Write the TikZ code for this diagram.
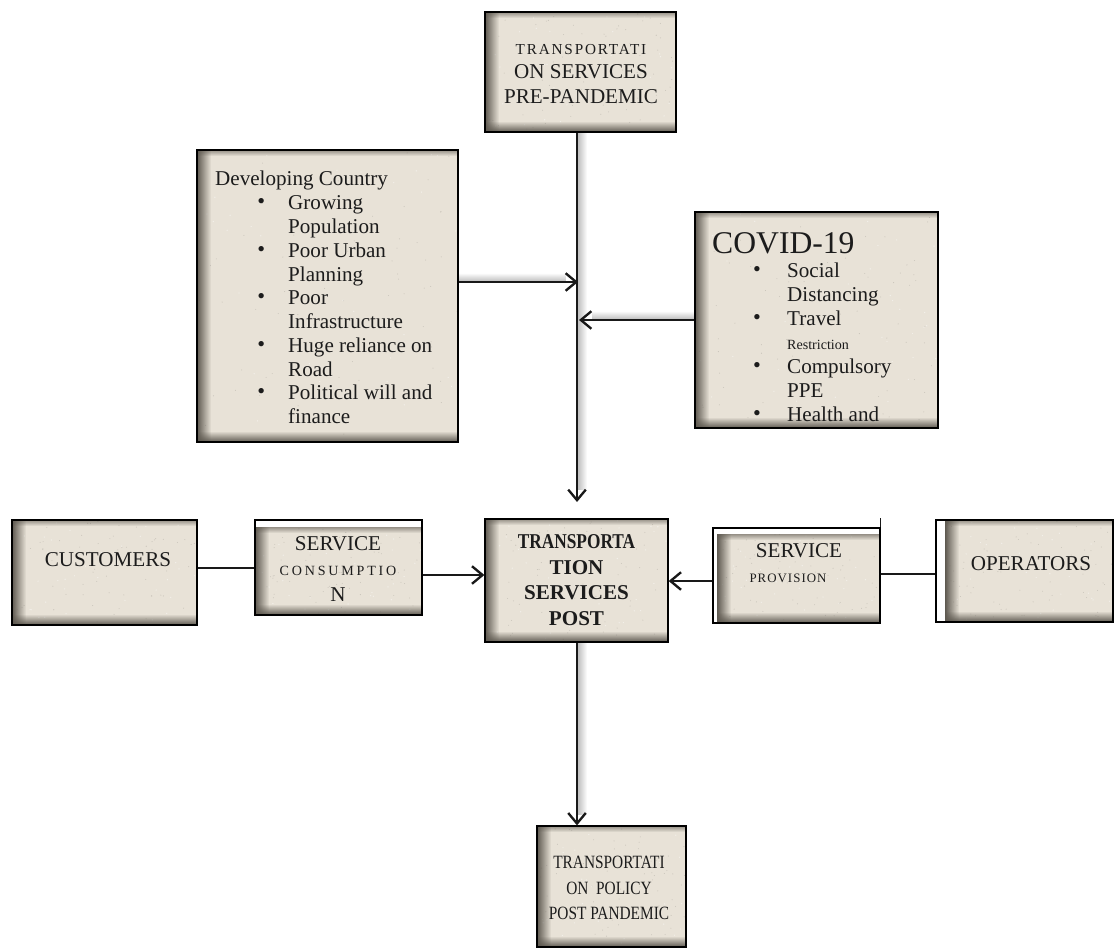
\documentclass[tikz,border=0pt]{standalone}
\usepackage{fontspec}
\setmainfont{Liberation Serif}
\newfontfamily\narrowserif{Liberation Serif}[FakeStretch=0.82]
\usetikzlibrary{fit,arrows.meta,fadings,calc}

\definecolor{stone}{HTML}{E8E2D7}
\definecolor{stoneshade}{HTML}{5E5950}
\definecolor{ink}{HTML}{1C1C1C}

\newcommand\pxu{0.03cm}
\newcommand\fs[2]{\fontsize{#1}{#2}\selectfont}
\newcommand\bul{\raisebox{0.1ex}{\fs{19}{19}\textbullet}}

% stone-textured fill with inner shading, drawn inside each box
\newcommand\stonefill{%
  \coordinate (SWc) at (path picture bounding box.south west);
  \coordinate (NEc) at (path picture bounding box.north east);
  \coordinate (sw) at ([xshift=\insetL*\pxu]SWc);
  \coordinate (ne) at ([yshift=-\insetT*\pxu]NEc);
  \fill[stone] (sw) rectangle (ne);
  \foreach \k in {1,...,70}{%
    \pgfmathsetmacro\ra{rnd}\pgfmathsetmacro\rb{rnd}%
    \fill[black,opacity=0.13] let \p1=(sw), \p2=(ne) in
      ({\x1+\ra*(\x2-\x1)},{\y1+\rb*(\y2-\y1)}) circle (0.45pt);
  }
  \foreach \k in {1,...,40}{%
    \pgfmathsetmacro\ra{rnd}\pgfmathsetmacro\rb{rnd}%
    \fill[white,opacity=0.45] let \p1=(sw), \p2=(ne) in
      ({\x1+\ra*(\x2-\x1)},{\y1+\rb*(\y2-\y1)}) circle (0.6pt);
  }
  \fill[stoneshade,path fading=east] (sw) rectangle ([xshift=14*\pxu]sw |- ne);
  \fill[stoneshade,path fading=north] (sw) rectangle ([yshift=11*\pxu]sw -| ne);
  \fill[stoneshade,opacity=0.6,path fading=south] ([yshift=-6*\pxu]ne -| sw) rectangle (ne);
}

\tikzset{
  inset left/.store in=\insetL, inset top/.store in=\insetT,
  inset left=0, inset top=0,
  stonebox/.style={draw=black, line width=1.1pt, fill=white, inner sep=0pt,
    path picture={\stonefill}},
  txt/.style={inner sep=0pt, text=ink},
  conn/.style={draw=black!90, line width=2pt},
  link/.style={draw=black!90, line width=1.3pt},
  arrowed/.style={-{Straight Barb[length=9pt,width=15pt]}},
  lineshade/.style={fill=black!24},
}

\begin{document}
\begin{tikzpicture}[x=0.03cm, y=-0.03cm]
\pgfmathsetseed{4711}
\useasboundingbox[fill=white] (0,0) rectangle (1114,951);

% boxes
\node[stonebox, fit={(485,12)(676,132)}] (pre) {};
\node[stonebox, fit={(197,150)(458,442)}] (dev) {};
\node[stonebox, fit={(695,212)(938,428)}] (covid) {};
\node[stonebox, fit={(12,520)(197,625)}] (cust) {};
\node[stonebox, inset top=7, fit={(255,520)(422,615)}] (cons) {};
\node[stonebox, fit={(485,519)(668,642)}] (post) {};
\node[stonebox, inset left=4, inset top=6, fit={(713,528)(880,623)}] (prov) {};
\node[stonebox, inset left=9, fit={(936,520)(1113,622)}] (oper) {};
\node[stonebox, fit={(537,826)(686,947)}] (policy) {};
\draw[link] (prov.north east) -- ++(0,-9);

% junction points on the main vertical axis
\coordinate (jTop) at (577,502);
\coordinate (jA) at (578,282);
\coordinate (jB) at (579,320);

% soft shading beside the connectors
\fill[lineshade, path fading=east] ([xshift=1pt]577,0 |- pre.south) rectangle ([xshift=10*\pxu]577,490);
\fill[lineshade, path fading=east] ([xshift=1pt]577,0 |- post.south) rectangle ([xshift=10*\pxu]577,815);
\fill[lineshade, path fading=north] ([yshift=1pt]dev.east |- jA) rectangle ([yshift=9*\pxu]566,282);
\fill[lineshade, path fading=north] ([yshift=1pt]covid.west |- jB) rectangle ([yshift=9*\pxu]592,320);

% connectors
\draw[conn, arrowed] (577,0 |- pre.south) -- (jTop);
\draw[conn, arrowed] (dev.east |- jA) -- (jA);
\draw[conn, arrowed] (covid.west |- jB) -- (jB);
\draw[link] (cust.east |- 0,568) -- (cons.west |- 0,568);
\draw[conn, arrowed] (cons.east |- 0,575) -- (post.west |- 0,575);
\draw[conn, arrowed] (prov.west |- 0,581) -- (post.east |- 0,581);
\draw[link] (prov.east |- 0,574) -- (oper.west |- 0,574);
\draw[conn, arrowed] (577,0 |- post.south) -- (577,0 |- policy.north);

% texts
\node[txt, align=center, font=\fs{18}{21}] (pretext) at (581,74)
  {{\fs{13}{15}\addfontfeature{LetterSpace=12}TRANSPORTATI}\\ON SERVICES\\PRE-PANDEMIC};

\node[txt, anchor=north west] (devtext) at (215,169) {\fs{18}{20.3}%
\begin{tabular}{@{}p{35.9pt}@{}p{26.4pt}@{}l@{}}
\multicolumn{3}{@{}l@{}}{Developing Country}\\
& \bul & Growing\\
& & Population\\
& \bul & Poor Urban\\
& & Planning\\
& \bul & Poor\\
& & Infrastructure\\
& \bul & Huge reliance on\\
& & Road\\
& \bul & Political will and\\
& & finance
\end{tabular}};

\node[txt, anchor=west, font=\fs{27}{30}] (covidtitle) at (712,243) {COVID-19};
\node[txt, anchor=north west] (covidtext) at (712,260) {\fs{18}{20.5}%
\begin{tabular}{@{}p{35pt}@{}p{29pt}@{}l@{}}
& \bul & Social\\
& & Distancing\\
& \bul & Travel\\
& & {\fs{12}{14}Restriction}\\
& \bul & Compulsory\\
& & PPE\\
& \bul & Health and
\end{tabular}};

\node[txt, font=\fs{18}{21}] (custtext) at (108,560) {CUSTOMERS};
\node[txt, align=center, font=\fs{18}{21.8}] (constext) at (338,569)
  {SERVICE\\{\fs{12}{14}\addfontfeature{LetterSpace=20}CONSUMPTIO}\\N};
\node[txt, align=center, font=\bfseries\fs{18}{21.9}] (posttext) at (576.5,580)
  {{\narrowserif\bfseries TRANSPORTA}\\TION\\SERVICES\\POST};
\node[txt, font=\fs{18}{21}] (provtext) at (799,551) {SERVICE};
\node[txt, font=\fs{11}{13}] (provsub) at (788,578) {\addfontfeature{LetterSpace=8}PROVISION};
\node[txt, font=\fs{18}{21}] (opertext) at (1031,564) {OPERATORS};
\node[txt, align=center, font=\narrowserif\fs{16}{22}] (policytext) at (609,888)
  {TRANSPORTATI\\ON~~POLICY\\POST PANDEMIC};
\end{tikzpicture}
\end{document}
